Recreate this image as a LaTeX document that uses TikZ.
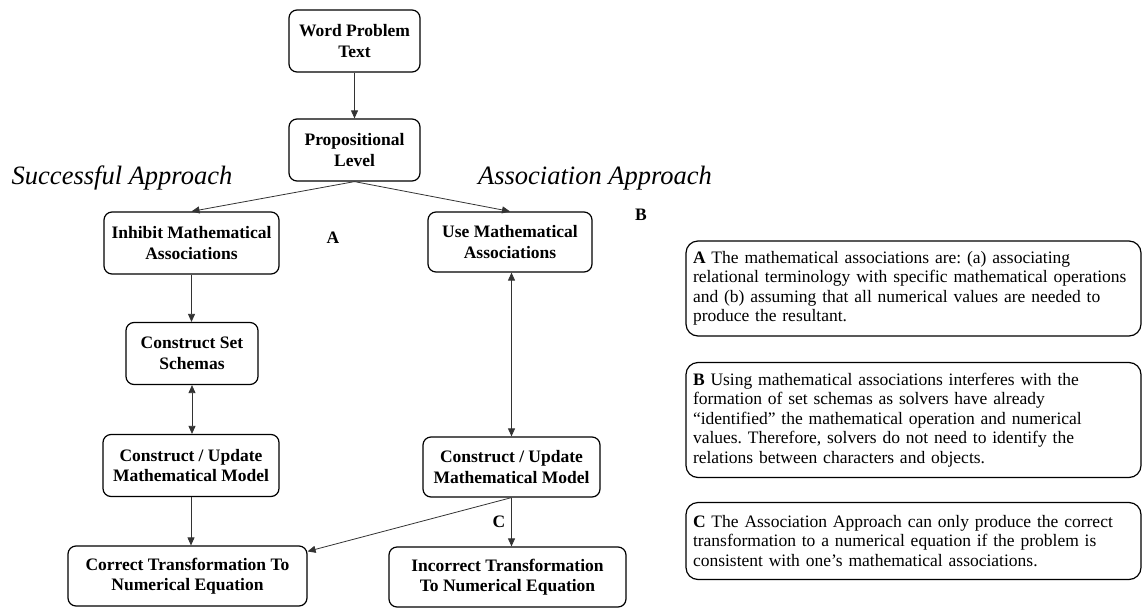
\documentclass[tikz,border=0pt]{standalone}
\usepackage{fontspec}
\setmainfont{Liberation Serif}
\usetikzlibrary{arrows.meta,positioning,calc}
\frenchspacing

\newcommand{\boxfont}{\fontsize{17.5}{20.5}\selectfont\bfseries}
\newcommand{\notefont}{\fontsize{17.5}{19.5}\selectfont}
\newcommand{\approachfont}{\fontsize{26.5}{30}\selectfont\itshape}

\tikzset{
    procbox/.style={draw, line width=1.2pt, rounded corners=8pt, align=center,
        font=\boxfont, minimum height=62pt, inner sep=3pt},
    notebox/.style={draw, line width=1.2pt, rounded corners=12pt, align=left,
        text width=441pt, inner xsep=7pt, font=\notefont},
    flowarrow/.style={-{Triangle[length=8pt,width=7pt]}, draw=black!80, line width=0.8pt},
    twoway/.style={{Triangle[length=8pt,width=7pt]}-{Triangle[length=8pt,width=7pt]}, draw=black!80, line width=0.8pt},
    approach/.style={font=\approachfont},
    tag/.style={font=\boxfont}
}

\begin{document}
\begin{tikzpicture}[x=1pt, y=-1pt]
    \useasboundingbox (0,0) rectangle (1143,608);

    % flow boxes
    \node[procbox, minimum width=131pt] (wpt) at (354.5,41) {Word Problem\\Text};
    \node[procbox, minimum width=131pt] (prop) at (354.5,150) {Propositional\\Level};
    \node[procbox, minimum width=175pt] (inhibit) at (191.5,243) {Inhibit Mathematical\\Associations};
    \node[procbox, minimum width=164pt, minimum height=60pt] (use) at (510,242) {Use Mathematical\\Associations};
    \node[procbox, minimum width=132pt] (schemas) at (192,353.5) {Construct Set\\Schemas};
    \node[procbox, minimum width=176pt] (modelL) at (191,465.5) {Construct / Update\\Mathematical Model};
    \node[procbox, minimum width=177pt, minimum height=60pt] (modelR) at (511.5,467) {Construct / Update\\Mathematical Model};
    \node[procbox, minimum width=239pt, minimum height=60pt] (correct) at (187.5,576) {Correct Transformation To\\Numerical Equation};
    \node[procbox, minimum width=237pt, minimum height=60pt] (incorrect) at (507.5,577) {Incorrect Transformation\\To Numerical Equation};

    % headings and tags
    \node[approach] (succ) at (122,178) {Successful Approach};
    \node[approach] (assoc) at (595,178) {Association Approach};
    \node[tag] (tagA) at (333,238) {A};
    \node[tag] (tagB) at (641,215) {B};
    \node[tag] (tagC) at (499,522) {C};

    % connectors
    \draw[flowarrow] (wpt.south) -- (wpt.south |- prop.north);
    \draw[flowarrow] (prop.south) -- (inhibit.north);
    \draw[flowarrow] (prop.south) -- (use.north);
    \draw[flowarrow] (inhibit.south) -- (inhibit.south |- schemas.north);
    \draw[twoway] (schemas.south) -- (schemas.south |- modelL.north);
    \draw[twoway] (modelR.north) -- (modelR.north |- use.south);
    \draw[flowarrow] (modelL.south) -- (modelL.south |- correct.north);
    \draw[flowarrow] (modelR.south) -- (modelR.south |- incorrect.north);
    \draw[flowarrow] (modelR.south) -- ([yshift=-6pt]correct.north east);

    % notes
    \node[notebox, minimum height=95pt] (noteA) at (913.5,288.5) {\textbf{A} The mathematical associations are: (a) associating\\
        relational terminology with specific mathematical operations\\
        and (b) assuming that all numerical values are needed to\\
        produce the resultant.};
    \node[notebox, minimum height=115pt] (noteB) at (913.5,420) {\textbf{B} Using mathematical associations interferes with the\\
        formation of set schemas as solvers have already\\
        “identified” the mathematical operation and numerical\\
        values. Therefore, solvers do not need to identify the\\
        relations between characters and objects.};
    \node[notebox, minimum height=77pt] (noteC) at (913.5,541) {\textbf{C} The Association Approach can only produce the correct\\
        transformation to a numerical equation if the problem is\\
        consistent with one’s mathematical associations.};
\end{tikzpicture}
\end{document}
